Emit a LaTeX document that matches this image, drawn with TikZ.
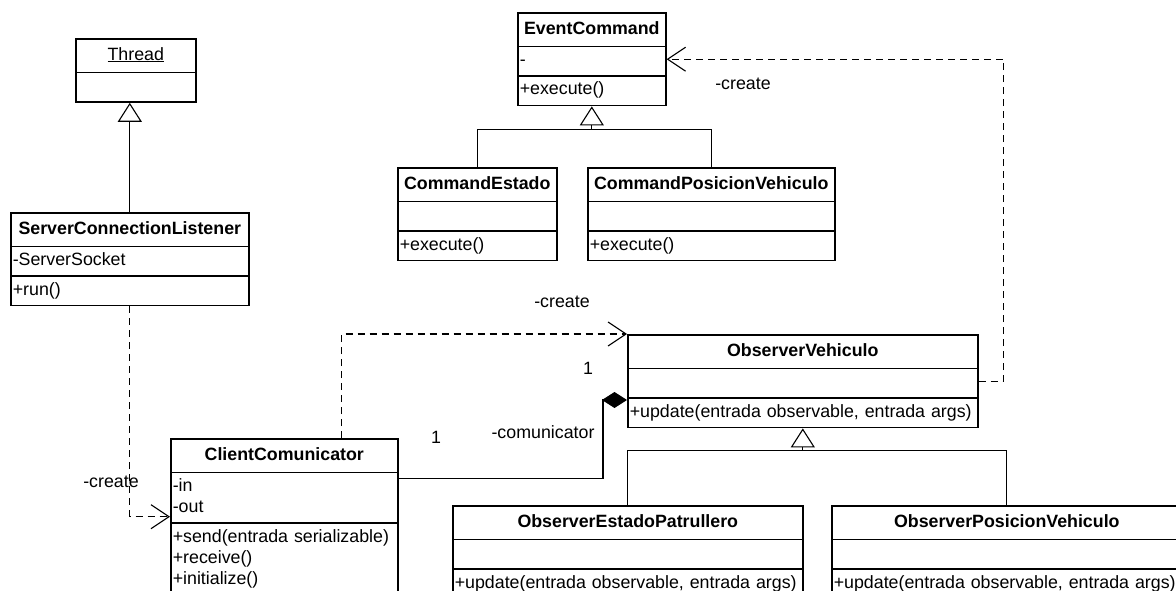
\documentclass[tikz,border=0pt]{standalone}
\usepackage{fontspec}
\setmainfont{Liberation Sans}
\usetikzlibrary{shapes.multipart,arrows.meta}

\newcommand{\clsname}[1]{\centering\rule[-8pt]{0pt}{25pt}\textbf{#1}\par}

\tikzset{
  umlclass/.style={draw, line width=1.6pt, rectangle split, rectangle split parts=3,
    anchor=north west, inner xsep=2pt, inner ysep=3.5pt, align=left},
  inherit/.style={line width=1.1pt, -{Triangle[open,length=19pt,width=24pt]}},
  create/.style={line width=1.1pt, dash pattern=on 7pt off 5pt,
    -{Straight Barb[length=18pt,width=24pt]}},
  owns/.style={line width=1.1pt, -{Diamond[length=25pt,width=16pt]}}
}

\begin{document}
\begin{tikzpicture}[x=1pt, y=-1pt, font=\fontsize{17.8}{21}\selectfont]
  \useasboundingbox (0,0) rectangle (1176,591);
  \clip (0,0) rectangle (1176,591);

  % Classes
  \node[umlclass, rectangle split parts=2, text width=116pt] (thread) at (75,38)
    {\centering\rule[-8pt]{0pt}{25pt}\underline{Thread}\par\nodepart{two}\strut};
  \node[umlclass, text width=234pt] (listener) at (10,212)
    {\clsname{ServerConnectionListener}\nodepart{two}\strut-ServerSocket\nodepart{three}\strut+run()};
  \node[umlclass, text width=144pt] (evcmd) at (517,12)
    {\clsname{EventCommand}\nodepart{two}\strut-\nodepart{three}\strut+execute()};
  \node[umlclass, text width=155pt] (cmdestado) at (397,167)
    {\clsname{CommandEstado}\nodepart{two}\strut\nodepart{three}\strut+execute()};
  \node[umlclass, text width=243pt] (cmdpos) at (587,167)
    {\clsname{CommandPosicionVehiculo}\nodepart{two}\strut\nodepart{three}\strut+execute()};
  \node[umlclass, text width=346pt] (obsveh) at (627,334)
    {\clsname{ObserverVehiculo}\nodepart{two}\strut\nodepart{three}\strut+update(entrada observable, entrada args)};
  \node[umlclass, text width=223pt] (client) at (170,438)
    {\clsname{ClientComunicator}\nodepart{two}\strut-in\\-out\strut
     \nodepart{three}\strut+send(entrada serializable)\\+receive()\\+initialize()\strut};
  \node[umlclass, text width=346pt] (obsestado) at (452,505)
    {\clsname{ObserverEstadoPatrullero}\nodepart{two}\strut\nodepart{three}\strut+update(entrada observable, entrada args)};
  \node[umlclass, text width=346pt] (obspos) at (831,505)
    {\clsname{ObserverPosicionVehiculo}\nodepart{two}\strut\nodepart{three}\strut+update(entrada observable, entrada args)};

  % Generalisations
  \draw[inherit] (listener.north) -- (listener.north |- thread.south);
  \coordinate (cmdbar) at ([yshift=-23pt]evcmd.south);
  \draw[line width=1.1pt] (cmdestado.north) |- (cmdbar) -| (cmdpos.north);
  \draw[inherit] (cmdbar) -- (evcmd.south);
  \coordinate (obsbar) at ([yshift=-22pt]obsveh.south);
  \draw[line width=1.1pt] (obsestado.north) |- (obsbar) -| (obspos.north);
  \draw[inherit] (obsbar) -- (obsveh.south);

  % Dependencies
  \draw[create] (listener.south) |- (client.west);
  \draw[create] ([xshift=-57pt]client.north east) |- (obsveh.north west);
  \draw[create] (obsveh.east) -- ++(25,0) |- (evcmd.east);

  % Composition
  \coordinate (whole) at ([yshift=-66pt]obsveh.north west);
  \draw[owns] ([yshift=38pt]client.east) -| ([xshift=-24pt]whole) -- (whole);

  % Labels
  \node (lcreate1) at (111,482) {-create};
  \node (lcreate2) at (562,302) {-create};
  \node (lcreate3) at (743,84) {-create};
  \node (mult1) at (588,368) {1};
  \node (role) at (543,432) {-comunicator};
  \node (mult2) at (436,437) {1};
\end{tikzpicture}
\end{document}
